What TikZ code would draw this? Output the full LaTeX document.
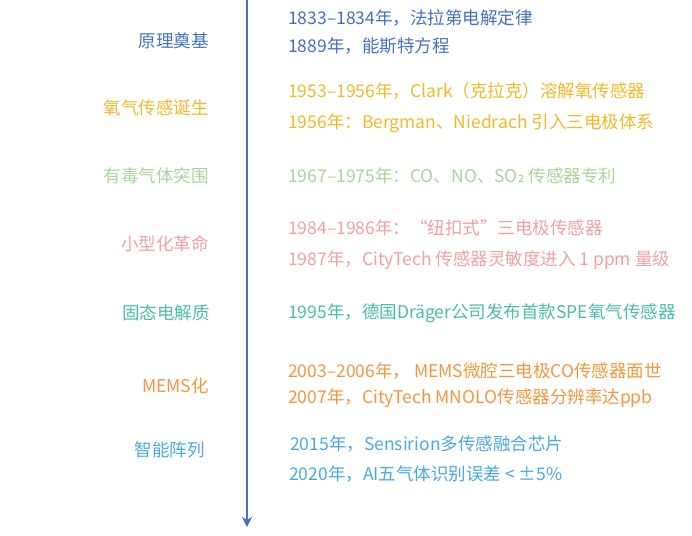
\documentclass[tikz,border=0pt]{standalone}
\usepackage{fontspec}
\setmainfont{Noto Sans CJK SC}
\newfontfamily\subfont{DejaVu Sans}
\usepackage{tikz}
\usetikzlibrary{arrows.meta}

\definecolor{cbasis}{RGB}{68,114,196}
\definecolor{coxygen}{RGB}{245,185,40}
\definecolor{ctoxic}{RGB}{168,214,150}
\definecolor{cmini}{RGB}{244,160,160}
\definecolor{csolid}{RGB}{72,190,172}
\definecolor{cmems}{RGB}{248,150,60}
\definecolor{csmart}{RGB}{72,170,228}

\begin{document}
\begin{tikzpicture}[>={Stealth[length=10pt,width=10pt,inset=3pt]}, x=1pt, y=-1pt,
		stage/.style={anchor=east, inner sep=0pt, font=\fontsize{17.5}{20}\selectfont},
		event/.style={anchor=west, inner sep=0pt, font=\fontsize{17.5}{20}\selectfont}]
		\useasboundingbox (0,0) rectangle (692,535);
		%axis
		\coordinate (top) at (247,0);
		\coordinate (bottom) at (247,527);
		\draw [->, cbasis, line width=2pt] (top) -- (bottom);
		%1
		\node [stage, text=cbasis] (basis) at (209,41) {原理奠基};
		\node [event, text=cbasis] (e1833) at (288,18) {1833–1834年，法拉第电解定律};
		\node [event, text=cbasis] (e1889) at (288,46) {1889年，能斯特方程};
		%2
		\node [stage, text=coxygen] (oxygen) at (209,108) {氧气传感诞生};
		\node [event, text=coxygen] (e1953) at (288,91) {1953–1956年，Clark（克拉克）溶解氧传感器};
		\node [event, text=coxygen] (e1956) at (288,123) {1956年：Bergman、Niedrach 引入三电极体系};
		%3
		\node [stage, text=ctoxic] (toxic) at (209,176) {有毒气体突围};
		\node [event, text=ctoxic] (e1967) at (288,176) {1967–1975年：CO、NO、SO{\subfont ₂} 传感器专利};
		%4
		\node [stage, text=cmini] (mini) at (209,244) {小型化革命};
		\node [event, text=cmini] (e1984) at (288,228) {1984–1986年：“纽扣式”三电极传感器};
		\node [event, text=cmini] (e1987) at (288,260) {1987年，CityTech 传感器灵敏度进入 1 ppm 量级};
		%5
		\node [stage, text=csolid] (solid) at (210,313) {固态电解质};
		\node [event, text=csolid] (e1995) at (288,313) {1995年，德国Dräger公司发布首款SPE氧气传感器};
		%6
		\node [stage, text=cmems] (mems) at (209,386) {MEMS化};
		\node [event, text=cmems] (e2003) at (288,371) {2003–2006年， MEMS微腔三电极CO传感器面世};
		\node [event, text=cmems] (e2007) at (288,398) {2007年，CityTech MNOLO传感器分辨率达ppb};
		%7
		\node [stage, text=csmart] (smart) at (205,450) {智能阵列};
		\node [event, text=csmart] (e2015) at (290,444) {2015年，Sensirion多传感融合芯片};
		\node [event, text=csmart] (e2020) at (289,474) {2020年，AI五气体识别误差 < ±5\%};
	\end{tikzpicture}
\end{document}
